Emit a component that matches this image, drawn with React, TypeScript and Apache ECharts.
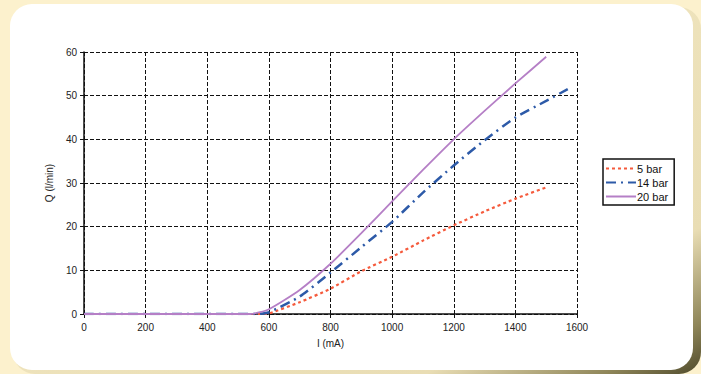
import React, { useEffect, useRef } from "react";
import * as echarts from "echarts";

const xTicks = [0, 200, 400, 600, 800, 1000, 1200, 1400, 1600];
const yTicks = [0, 10, 20, 30, 40, 50, 60];

const current5 = [0, 590, 600, 700, 800, 900, 1000, 1100, 1200, 1300, 1400, 1500];
const flow5 = [0, 0, 0.1, 2.7, 5.8, 9.8, 13.1, 16.8, 20.3, 23.5, 26.4, 29];

const current14 = [0, 560, 600, 700, 800, 900, 1000, 1100, 1200, 1300, 1400, 1500, 1570];
const flow14 = [0, 0, 0.4, 4, 9.5, 15.3, 21.1, 27.8, 34, 39.8, 45, 48.8, 51.5];

const current20 = [0, 540, 600, 700, 800, 900, 1000, 1100, 1200, 1300, 1400, 1500];
const flow20 = [0, 0, 1.1, 5.5, 11.5, 18.5, 25.8, 33, 40, 46.5, 52.8, 58.9];

const seriesNames = ["5 bar", "14 bar", "20 bar"];

const pair = (xs: number[], ys: number[]) => xs.map((x, i) => [x, ys[i]]);

export default function App() {
  const ref = useRef<HTMLDivElement>(null);
  useEffect(() => {
    if (!ref.current) return;
    const chart = echarts.init(ref.current, undefined, { renderer: "svg" });
    const font = "'Liberation Sans', Arial, sans-serif";
    chart.setOption({
      animation: false,
      backgroundColor: "#fcf1cd",
      graphic: [
        {
          type: "rect",
          z: -10,
          silent: true,
          shape: { x: 13, y: 7, width: 688, height: 367, r: 22 },
          style: {
            fill: new echarts.graphic.LinearGradient(0, 0, 1, 1, [
              { offset: 0, color: "#f5ebc6" },
              { offset: 0.8, color: "#e9ddb4" },
              { offset: 0.93, color: "#8f8659" },
              { offset: 1, color: "#4f4a2c" },
            ]),
          },
        },
        {
          type: "rect",
          z: -9,
          silent: true,
          shape: { x: 10, y: 4, width: 683, height: 366, r: 22 },
          style: { fill: "#ffffff" },
        },
      ],
      grid: { left: 84, right: 124, top: 52, bottom: 60, containLabel: false },
      legend: {
        data: seriesNames,
        orient: "vertical",
        left: 603,
        top: 159,
        borderColor: "#111",
        borderWidth: 1.5,
        padding: [4, 6, 3, 2],
        itemGap: 3,
        itemWidth: 30,
        itemHeight: 11,
        itemStyle: { opacity: 0 },
        textStyle: { fontFamily: font, fontSize: 11, color: "#111", padding: [0, 0, 0, -4] },
      },
      xAxis: {
        type: "value",
        min: 0,
        max: 1600,
        interval: 200,
        name: "I (mA)",
        nameLocation: "middle",
        nameGap: 24,
        nameTextStyle: { fontFamily: font, fontSize: 10, color: "#222" },
        axisLine: { show: true, lineStyle: { color: "#111", width: 1.5 } },
        axisTick: { show: true, length: 4, lineStyle: { color: "#111" } },
        axisLabel: { fontFamily: font, fontSize: 10, color: "#222", margin: 8, formatter: (v: number) => String(v) },
        splitLine: { show: true, lineStyle: { color: "#111", type: [4, 2], width: 1 } },
      },
      yAxis: {
        type: "value",
        min: 0,
        max: 60,
        interval: 10,
        name: "Q (l/min)",
        nameLocation: "middle",
        nameGap: 20,
        nameTextStyle: { fontFamily: font, fontSize: 10, color: "#222" },
        axisLine: { show: true, lineStyle: { color: "#111", width: 1.5 } },
        axisTick: { show: true, length: 4, lineStyle: { color: "#111" } },
        axisLabel: { fontFamily: font, fontSize: 10, color: "#222", margin: 7, formatter: (v: number) => String(v) },
        splitLine: { show: true, lineStyle: { color: "#111", type: [4, 2], width: 1 } },
      },
      series: [
        {
          name: seriesNames[0],
          type: "line",
          data: pair(current5, flow5),
          symbol: "none",
          smooth: 0.2,
          z: 3,
          color: "#f55a3c",
          lineStyle: { color: "#f55a3c", width: 2.2, type: [3, 3] },
        },
        {
          name: seriesNames[1],
          type: "line",
          data: pair(current14, flow14),
          symbol: "none",
          smooth: 0.2,
          z: 4,
          color: "#2d5aa8",
          lineStyle: { color: "#2d5aa8", width: 2.5, type: [10, 5, 2, 5] },
        },
        {
          name: seriesNames[2],
          type: "line",
          data: pair(current20, flow20),
          symbol: "none",
          smooth: 0.2,
          z: 5,
          color: "#b57fc6",
          lineStyle: { color: "#b57fc6", width: 1.8, type: "solid" },
        },
      ],
    });
    return () => chart.dispose();
  }, []);
  return <div ref={ref} style={{ width: 701, height: 374, position: "absolute", left: 0, top: 0 }} />;
}
